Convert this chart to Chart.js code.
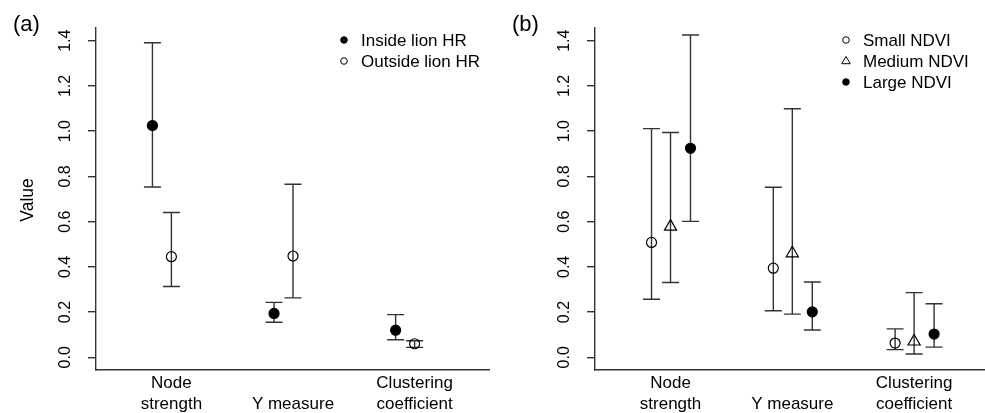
<!DOCTYPE html>
<html>
<head>
<meta charset="utf-8">
<script src="https://cdn.jsdelivr.net/npm/chart.js@4"></script>
<style>
  html, body { margin: 0; padding: 0; background: #fff; }
  #wrap { position: relative; width: 985px; height: 413px; overflow: hidden; }
  .panel { position: absolute; top: 0; height: 413px; }
  #panel-a { left: 0; width: 490px; }
  #panel-b { left: 490px; width: 495px; }
</style>
</head>
<body>
<div id="wrap">
  <div class="panel" id="panel-a"><canvas id="chart-a"></canvas></div>
  <div class="panel" id="panel-b"><canvas id="chart-b"></canvas></div>
</div>
<script>
// categories and tick labels
const categories = [['Node', 'strength'], ['', 'Y measure'], ['Clustering', 'coefficient']];
const yTicks = [0, 0.2, 0.4, 0.6, 0.8, 1.0, 1.2, 1.4];

// panel (a): lion home range
const insideMean = [1.025, 0.194, 0.120];
const insideLow  = [0.753, 0.155, 0.078];
const insideHigh = [1.391, 0.243, 0.189];
const outsideMean = [0.445, 0.448, 0.060];
const outsideLow  = [0.313, 0.263, 0.044];
const outsideHigh = [0.640, 0.765, 0.073];

// panel (b): NDVI classes
const smallMean = [0.508, 0.394, 0.063];
const smallLow  = [0.257, 0.206, 0.034];
const smallHigh = [1.011, 0.752, 0.126];
const mediumMean = [0.578, 0.460, 0.070];
const mediumLow  = [0.331, 0.191, 0.015];
const mediumHigh = [0.994, 1.099, 0.286];
const largeMean = [0.924, 0.201, 0.103];
const largeLow  = [0.601, 0.121, 0.045];
const largeHigh = [1.425, 0.333, 0.237];

const FONT = '"Liberation Sans", Arial, sans-serif';
const INK = '#000';
const LINE = '#333';

function makeSet(label, mean, low, high, offset, style) {
  return {
    label: label,
    data: mean.map((v, i) => ({ x: i + 1 + offset, y: v, lo: low[i], hi: high[i] })),
    pointStyle: style.shape,
    pointRadius: style.r,
    pointHoverRadius: style.r,
    pointBackgroundColor: style.fill,
    pointBorderColor: INK,
    pointBorderWidth: 1.2,
    showLine: false,
    legendShape: style.shape,
    legendFill: style.fill
  };
}

const filled = { shape: 'circle', r: 5, fill: INK };
const open = { shape: 'circle', r: 5, fill: 'rgba(0,0,0,0)' };
const tri = { shape: 'triangle', r: 7, fill: 'rgba(0,0,0,0)' };

// draws error bars, rotated y labels, category labels, legend and panel tag
function panelPlugin(tag, showTitle, legendX) {
  return {
    id: 'panelDecor',
    beforeDatasetsDraw(chart) {
      const ctx = chart.ctx;
      const xs = chart.scales.x, ys = chart.scales.y;
      ctx.save();
      ctx.strokeStyle = LINE;
      ctx.lineWidth = 1.4;
      chart.data.datasets.forEach(ds => {
        ds.data.forEach(p => {
          const px = xs.getPixelForValue(p.x);
          const top = ys.getPixelForValue(p.hi);
          const bot = ys.getPixelForValue(p.lo);
          ctx.beginPath();
          ctx.moveTo(px, top); ctx.lineTo(px, bot);
          ctx.moveTo(px - 8.5, top); ctx.lineTo(px + 8.5, top);
          ctx.moveTo(px - 8.5, bot); ctx.lineTo(px + 8.5, bot);
          ctx.stroke();
        });
      });
      ctx.restore();
    },
    afterDraw(chart) {
      const ctx = chart.ctx;
      const xs = chart.scales.x, ys = chart.scales.y;
      const left = chart.chartArea.left;
      ctx.save();
      ctx.fillStyle = INK;

      // y tick labels, rotated like R's default
      ctx.font = '16px ' + FONT;
      ctx.textAlign = 'center';
      ctx.textBaseline = 'alphabetic';
      yTicks.forEach(v => {
        ctx.save();
        ctx.translate(left - 26.5, ys.getPixelForValue(v));
        ctx.rotate(-Math.PI / 2);
        ctx.fillText(v.toFixed(1), 0, 0);
        ctx.restore();
      });

      if (showTitle) {
        ctx.save();
        ctx.font = '17.5px ' + FONT;
        ctx.translate(32.5, 200);
        ctx.rotate(-Math.PI / 2);
        ctx.fillText('Value', 0, 0);
        ctx.restore();
      }

      // category labels
      ctx.font = '17px ' + FONT;
      categories.forEach((lines, i) => {
        const px = xs.getPixelForValue(i + 1);
        ctx.fillText(lines[0], px, 388);
        ctx.fillText(lines[1], px, 408.5);
      });

      // legend
      ctx.textAlign = 'left';
      chart.data.datasets.forEach((ds, i) => {
        const cy = 40 + i * 21;
        ctx.beginPath();
        if (ds.legendShape === 'triangle') {
          const r = 4.5;
          ctx.moveTo(legendX, cy - r);
          ctx.lineTo(legendX + r * 0.95, cy + r * 0.6);
          ctx.lineTo(legendX - r * 0.95, cy + r * 0.6);
          ctx.closePath();
        } else {
          ctx.arc(legendX, cy, 3.3, 0, Math.PI * 2);
        }
        ctx.lineWidth = 1;
        ctx.strokeStyle = INK;
        if (ds.legendFill === INK) ctx.fill();
        ctx.stroke();
        ctx.fillText(ds.label, legendX + 17, cy + 6);
      });

      // panel tag
      ctx.font = '22px ' + FONT;
      ctx.fillText(tag, chart.canvas.id === 'chart-a' ? 13 : 22, 31);
      ctx.restore();
    }
  };
}

function buildOptions(xMax) {
  return {
    responsive: false,
    animation: false,
    layout: { autoPadding: false, padding: { top: 28, right: 0, left: 0, bottom: 0 } },
    plugins: { legend: { display: false }, tooltip: { enabled: false } },
    scales: {
      x: {
        type: 'linear', min: 0.38, max: xMax,
        ticks: { display: false },
        grid: { display: false },
        border: { display: true, color: LINE, width: 1.4 },
        afterFit: s => { s.height = 43; }
      },
      y: {
        type: 'linear', min: -0.056, max: 1.456,
        afterBuildTicks: s => { s.ticks = yTicks.map(v => ({ value: v })); },
        ticks: { display: false },
        grid: { display: true, drawOnChartArea: false, drawTicks: true, tickLength: 8, color: LINE, lineWidth: 1.4 },
        border: { display: true, color: LINE, width: 1.4 },
        afterFit: s => { s.width = 96; }
      }
    }
  };
}

function sizeCanvas(id, w, h) {
  const c = document.getElementById(id);
  c.width = w; c.height = h;
  c.style.width = w + 'px'; c.style.height = h + 'px';
  return c;
}

new Chart(sizeCanvas('chart-a', 490, 413), {
  type: 'scatter',
  data: {
    datasets: [
      makeSet('Inside lion HR', insideMean, insideLow, insideHigh, -0.156, filled),
      makeSet('Outside lion HR', outsideMean, outsideLow, outsideHigh, 0, open)
    ]
  },
  options: buildOptions(3.62),
  plugins: [panelPlugin('(a)', true, 344)]
});

const optsB = buildOptions(3.582);
optsB.scales.y.afterFit = s => { s.width = 105; };
new Chart(sizeCanvas('chart-b', 495, 413), {
  type: 'scatter',
  data: {
    datasets: [
      makeSet('Small NDVI', smallMean, smallLow, smallHigh, -0.156, open),
      makeSet('Medium NDVI', mediumMean, mediumLow, mediumHigh, 0, tri),
      makeSet('Large NDVI', largeMean, largeLow, largeHigh, 0.164, filled)
    ]
  },
  options: optsB,
  plugins: [panelPlugin('(b)', false, 356)]
});
</script>
</body>
</html>
